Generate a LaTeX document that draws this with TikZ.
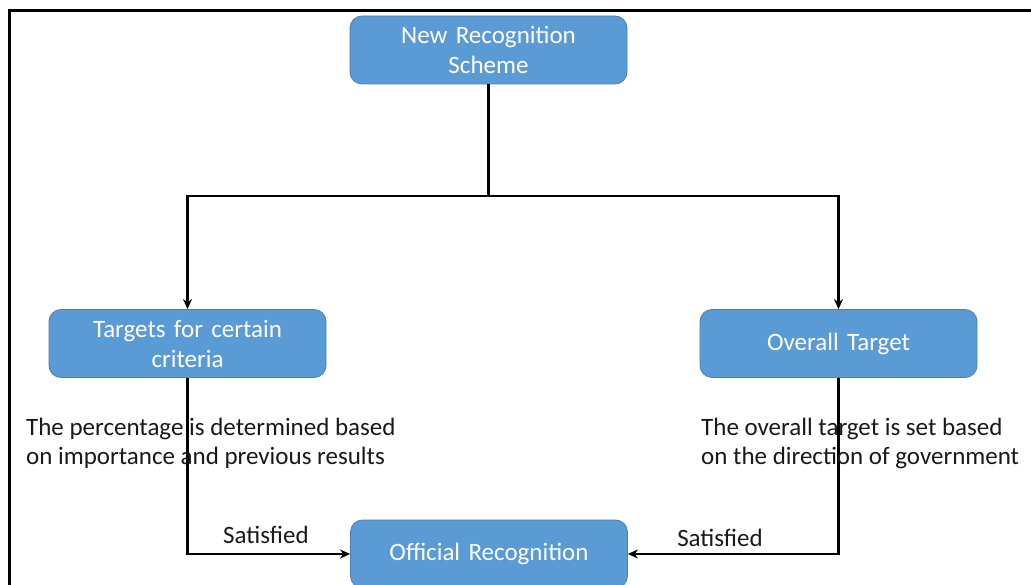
\documentclass[tikz,border=0pt]{standalone}
\usepackage{fontspec}
\setmainfont{Carlito}
\usetikzlibrary{arrows.meta}
\definecolor{boxblue}{HTML}{5B9BD5}
\definecolor{boxedge}{HTML}{4A7EBB}
\begin{document}
\begin{tikzpicture}[x=1pt,y=-1pt,
  stagebox/.style={rectangle, rounded corners=12pt, fill=boxblue, draw=boxedge,
    line width=0.8pt, minimum width=277pt, minimum height=68pt, text width=260pt,
    align=center, text=white, inner sep=0pt,
    font=\fontsize{25}{30}\selectfont},
  note/.style={anchor=west, align=left, inner sep=0pt, text=black!90,
    font=\fontsize{25}{29}\selectfont},
  flow/.style={line width=2.2pt, -{Stealth[length=10pt,width=9pt]}},
  frameline/.style={line width=3pt, black}]
\useasboundingbox (0,0) rectangle (1031,585);
% outer frame, open towards the right and bottom
\draw[frameline] (9.5,585) -- (9.5,11) -- (1031,11);

% stages
\node[stagebox] (scheme) at (488.5,50) {New Recognition\\Scheme};
\node[stagebox] (crit) at (187.5,343.5) {Targets for certain\\criteria};
\node[stagebox] (overall) at (838.5,343.5) {Overall Target};
\node[stagebox] (official) at (489,554) {Official Recognition};

% branching from the scheme
\coordinate (split) at (488.5,196);
\draw[line width=2.2pt] (scheme.south) -- (split);
\draw[flow] (split) -| (crit.north);
\draw[flow] (split) -| (overall.north);

% both targets lead to recognition
\draw[flow] (crit.south) |- (official.west);
\draw[flow] (overall.south) |- (official.east);

% explanations
\node[note] (critnote) at (26,443) {The percentage is determined based\\on importance and previous results};
\node[note] (overallnote) at (701,443) {The overall target is set based\\on the direction of government};

% edge labels
\node[font=\fontsize{25}{28}\selectfont, text=black!90] (satl) at (266,535) {Satisfied};
\node[font=\fontsize{25}{28}\selectfont, text=black!90] (satr) at (720,538) {Satisfied};
\end{tikzpicture}
\end{document}
